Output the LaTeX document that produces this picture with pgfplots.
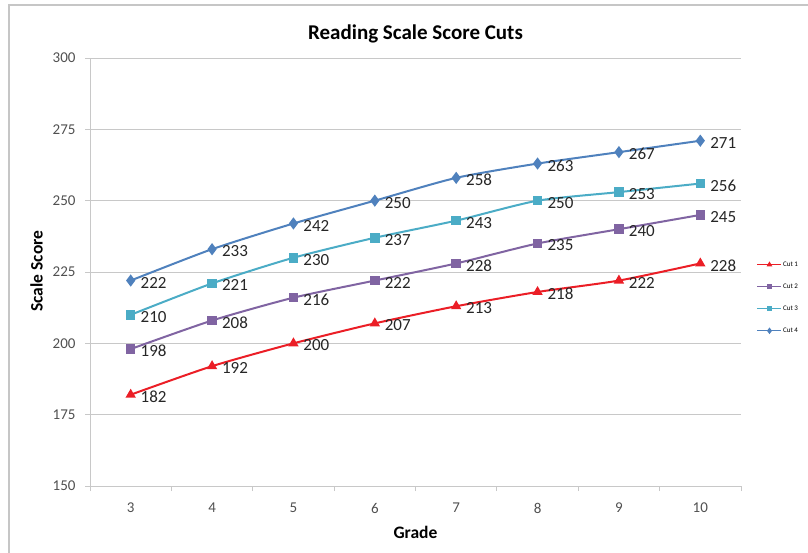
\documentclass[border=0pt]{standalone}
\usepackage{pgfplots}
\pgfplotsset{compat=1.18}
\usepackage{fontspec}
\setmainfont{Carlito}
\definecolor{cred}{RGB}{235,30,38}
\definecolor{cpurple}{RGB}{128,100,162}
\definecolor{ccyan}{RGB}{75,172,198}
\definecolor{cblue}{RGB}{79,129,189}
\definecolor{gridc}{RGB}{200,200,200}
\definecolor{tickc}{RGB}{80,80,80}
\begin{document}
\begin{tikzpicture}[x=1pt,y=1pt]
\draw[gray!45, line width=1.5pt] (9,-10) -- (9,547) -- (820,547);
\begin{axis}[
  at={(90pt,66pt)}, anchor=south west,
  scale only axis, width=651pt, height=428pt,
  xmin=2.5, xmax=10.5, ymin=150, ymax=300,
  xtick={3,...,10},
  minor xtick={2.5,3.5,...,10.5},
  ytick={150,175,...,300},
  tick align=outside,
  major x tick style={draw=none},
  minor tick length=5pt, major tick length=5pt,
  tick style={gridc, line width=0.8pt},
  axis x line*=bottom, axis y line*=left,
  axis line style={gridc, line width=0.8pt},
  ymajorgrids, grid style={gridc, line width=0.8pt},
  /pgf/number format/assume math mode=true,
  ticklabel style={font=\fontsize{15}{18}\selectfont, text=tickc},
  xticklabel style={anchor=center, yshift=-17pt},
  yticklabel style={anchor=east, xshift=-6pt},
  title={Reading Scale Score Cuts},
  title style={at={(axis description cs:0.5,1.042)}, anchor=center, font=\bfseries\fontsize{21}{24}\selectfont},
  xlabel={Grade},
  xlabel style={at={(axis description cs:0.5,-0.108)}, anchor=center, font=\bfseries\fontsize{17.5}{20}\selectfont},
  ylabel={Scale Score},
  ylabel style={at={(axis description cs:-0.082,0.502)}, anchor=center, font=\bfseries\fontsize{17.5}{20}\selectfont},
  every axis plot/.append style={line width=2pt, smooth, tension=0.4},
  nodes near coords,
  every node near coord/.append style={anchor=west, xshift=8pt, yshift=-2pt, inner sep=1pt, font=\fontsize{17}{20}\selectfont, text=black!85},
  legend style={at={(axis description cs:1.024,0.527)}, anchor=north west, draw=none, fill=none,
    font=\fontsize{7}{8}\selectfont, row sep=14pt, inner sep=0pt, nodes={inner sep=1pt}},
  legend cell align=left,
  legend image code/.code={\draw[mark repeat=2,mark phase=2,#1, line width=1.3pt, mark options={scale=0.5}] plot coordinates {(0pt,0pt) (12pt,0pt) (24pt,0pt)};},
]
\addplot[cred, mark=triangle*, mark size=4pt, mark options={solid}] coordinates {(3,182)(4,192)(5,200)(6,207)(7,213)(8,218)(9,222)(10,228)};
\addlegendentry{Cut 1}
\addplot[cpurple, mark=square*, mark size=3.8pt] coordinates {(3,198)(4,208)(5,216)(6,222)(7,228)(8,235)(9,240)(10,245)};
\addlegendentry{Cut 2}
\addplot[ccyan, mark=square*, mark size=3.8pt] coordinates {(3,210)(4,221)(5,230)(6,237)(7,243)(8,250)(9,253)(10,256)};
\addlegendentry{Cut 3}
\addplot[cblue, mark=diamond*, mark size=4.5pt] coordinates {(3,222)(4,233)(5,242)(6,250)(7,258)(8,263)(9,267)(10,271)};
\addlegendentry{Cut 4}
\end{axis}
\pgfresetboundingbox
\path[use as bounding box] (0,0) rectangle (808,552);
\end{tikzpicture}
\end{document}
